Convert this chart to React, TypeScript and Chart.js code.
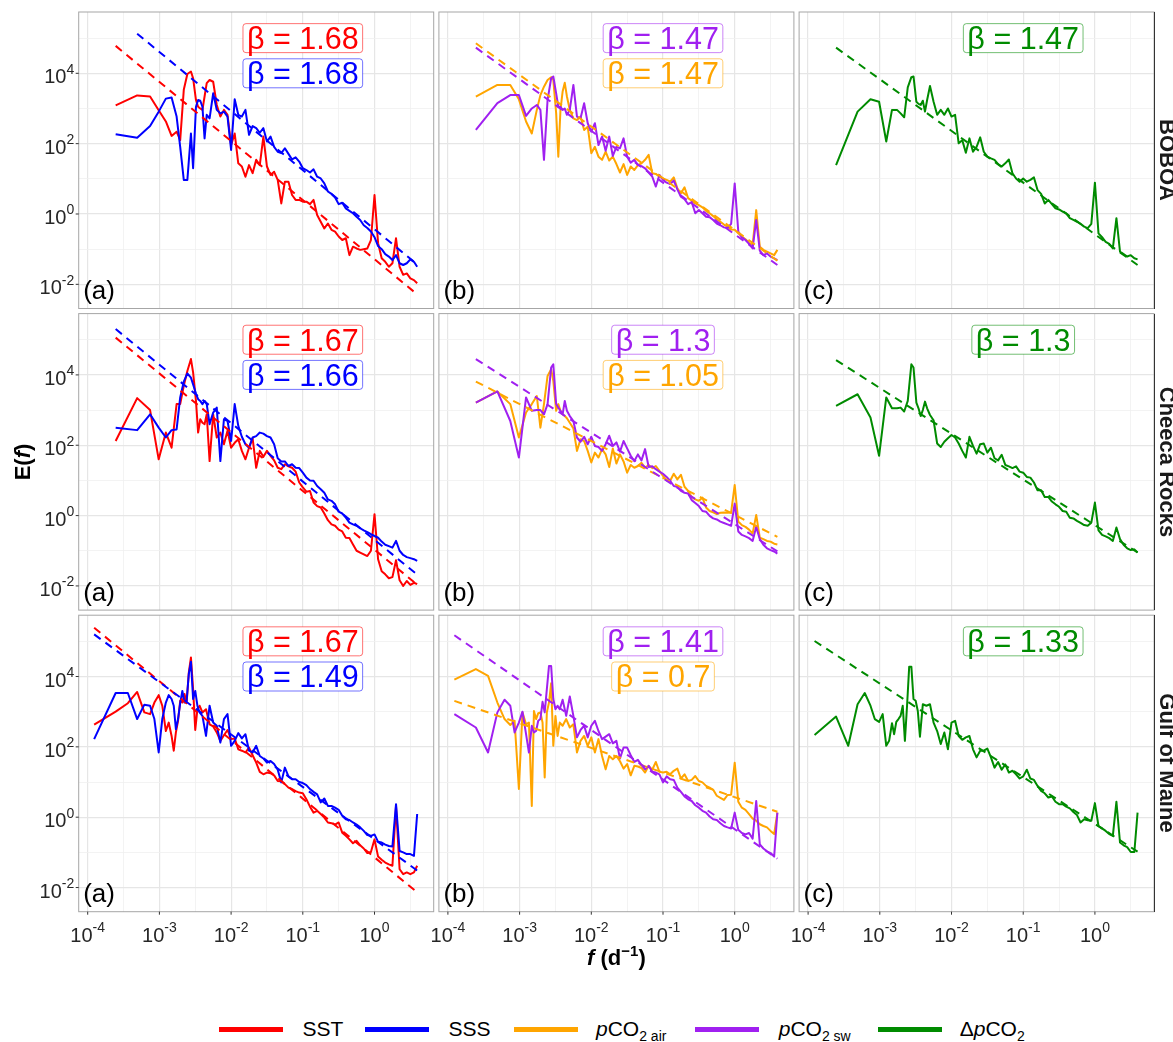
import React, { useEffect, useRef } from "react";
import { Chart, registerables } from "chart.js";

Chart.register(...registerables);

const FONT = '"Liberation Sans", Arial, Helvetica, sans-serif';

// ---------- labels / ticks ----------
const sites = ["BOBOA", "Cheeca Rocks", "Gulf of Maine"];
const panelTags = ["(a)", "(b)", "(c)"];
const xMajorExp = [-4, -3, -2, -1, 0];
const xMinorExp = [-3.5, -2.5, -1.5, -0.5, 0.5];
const yMajorExp = [-2, 0, 2, 4];
const yMinorExp = [-1, 1, 3, 5];
const xLimExp = [-4.1255, 0.8255];
const yLimExp = [-2.687, 5.743];
const betaLabelF = 0.1;
const betaLabelE = [1e5, 1e4];

const varColors = ["#FF0000", "#0000FF", "#FFA500", "#A020F0", "#008B00"];

// ---------- frequency grids: log10 f (d^-1) ----------
const logFreq11yr = [
  -3.61, -3.31, -3.13, -3.01, -2.91, -2.83, -2.76, -2.71, -2.66, -2.61,
  -2.56, -2.53, -2.49, -2.46, -2.43, -2.40, -2.37, -2.34, -2.30,
  -2.25, -2.20, -2.15, -2.10, -2.05, -2.00, -1.95, -1.90, -1.85, -1.80,
  -1.75, -1.70, -1.65, -1.60, -1.55, -1.50, -1.45, -1.40, -1.35, -1.30,
  -1.25, -1.20, -1.15, -1.10, -1.05, -1.00, -0.95, -0.90, -0.85, -0.80,
  -0.75, -0.70, -0.65, -0.60, -0.55, -0.50, -0.45, -0.40, -0.35, -0.30,
  -0.25, -0.20, -0.15, -0.10, -0.05, 0.00, 0.05, 0.10, 0.15, 0.20,
  0.25, 0.30, 0.35, 0.40, 0.45, 0.50, 0.55, 0.595,
];
const logFreq22yr = [
  -3.91, -3.61, -3.44, -3.31, -3.21, -3.13, -3.07, -3.01, -2.96, -2.91,
  -2.87, -2.83, -2.80, -2.77, -2.74, -2.71, -2.68, -2.65, -2.62, -2.59,
  -2.56, -2.53, -2.50, -2.47, -2.44, -2.40, -2.35, -2.30,
  -2.25, -2.20, -2.15, -2.10, -2.05, -2.00, -1.95, -1.90, -1.85, -1.80,
  -1.75, -1.70, -1.65, -1.60, -1.55, -1.50, -1.45, -1.40, -1.35, -1.30,
  -1.25, -1.20, -1.15, -1.10, -1.05, -1.00, -0.95, -0.90, -0.85, -0.80,
  -0.75, -0.70, -0.65, -0.60, -0.55, -0.50, -0.45, -0.40, -0.35, -0.30,
  -0.25, -0.20, -0.15, -0.10, -0.05, 0.00, 0.05, 0.10, 0.15, 0.20,
  0.25, 0.30, 0.35, 0.40, 0.45, 0.50, 0.55, 0.595,
];

// ---------- spectra: log10 E(f) ----------
const boboaSST = [
  3.09, 3.37, 3.34, 2.95, 2.63, 2.22, 2.34, 2.10, 3.53, 3.98,
  4.05, 3.86, 3.24, 3.05, 3.00, 2.96, 3.34, 3.72, 3.81, 3.76,
  3.10, 2.77, 2.96, 2.82, 1.96, 2.29, 1.44, 1.35, 1.06, 1.39,
  1.16, 1.54, 1.39, 2.20, 1.35, 1.11, 1.20, 0.97, 0.30, 0.92,
  0.92, 0.54, 0.40, 0.40, 0.35, 0.35, 0.28, 0.40, -0.03, -0.22,
  -0.41, -0.27, -0.45, -0.50, -0.64, -0.74, -0.69, -1.17, -0.93, -0.98,
  -1.02, -1.00, -0.98, -0.74, 0.54, -0.83, -1.26, -1.36, -1.50, -1.40,
  -0.69, -1.50, -1.73, -1.69, -1.83, -1.88, -1.97,
];
const boboaSSS = [
  2.27, 2.17, 2.50, 2.91, 3.28, 3.31, 2.77, 1.91, 0.97, 0.97,
  2.29, 1.30, 3.05, 3.24, 3.22, 3.05, 2.15, 2.82, 2.72, 3.43,
  2.96, 2.86, 2.91, 2.77, 1.82, 3.26, 2.82, 2.77, 2.96, 2.25,
  2.50, 2.44, 2.31, 2.44, 2.06, 2.20, 1.91, 1.77, 1.73, 1.87,
  1.71, 1.55, 1.61, 1.49, 1.30, 1.25, 1.18, 1.27, 1.06, 1.01,
  0.87, 0.64, 0.57, 0.47, 0.28, 0.32, 0.16, 0.09, 0.02, -0.08,
  -0.17, -0.32, -0.40, -0.50, -0.66, -0.91, -1.00, -1.14, -1.21, -1.31,
  -1.17, -1.40, -1.45, -1.40, -1.29, -1.36, -1.50,
];
const boboaAir = [
  3.34, 3.67, 3.67, 3.26, 2.63, 2.29, 2.96, 3.38, 3.62, 3.81,
  3.89, 3.81, 2.86, 1.63, 2.96, 3.48, 3.73, 3.34, 2.96, 2.72,
  2.67, 2.77, 2.39, 2.48, 1.73, 1.91, 1.63, 1.54, 1.77, 1.52,
  1.63, 1.42, 1.18, 1.42, 1.11, 1.35, 1.25, 1.39, 1.44, 1.54,
  1.68, 1.16, 1.14, 1.06, 1.01, 0.97, 0.92, 1.04, 0.73, 0.59,
  0.76, 0.45, 0.38, 0.30, 0.25, 0.19, 0.09, 0.02, -0.06, -0.15,
  -0.22, -0.30, -0.36, -0.44, -0.45, -0.55, -0.64, -0.72, -0.82, -0.88,
  0.11, -0.93, -1.02, -1.07, -1.12, -1.17, -1.02,
];
const boboaSw = [
  2.39, 3.15, 3.38, 3.38, 2.79, 3.00, 3.10, 2.96, 1.54, 3.24,
  3.86, 3.91, 3.43, 3.05, 3.05, 2.96, 3.00, 2.82, 2.96, 3.67,
  2.77, 2.72, 3.15, 2.58, 2.34, 2.58, 1.96, 2.20, 1.80, 2.20,
  1.65, 1.91, 1.87, 2.15, 1.63, 1.46, 1.54, 1.39, 1.36, 1.30,
  1.18, 1.06, 0.78, 1.11, 0.97, 0.89, 0.85, 0.95, 0.70, 0.49,
  0.42, 0.28, 0.34, 0.02, 0.11, 0.02, -0.08, -0.09, -0.17, -0.27,
  -0.32, -0.38, -0.40, -0.28, 0.87, -0.50, -0.66, -0.74, -0.85, -0.98,
  -0.17, -1.04, -1.17, -1.12, -1.21, -1.26, -1.31,
];
const boboaDelta = [
  1.39, 2.91, 3.26, 3.19, 2.06, 2.96, 2.96, 2.86, 2.75, 3.60,
  3.89, 3.91, 3.19, 3.13, 3.10, 3.22, 2.91, 3.24, 3.64, 3.19,
  2.82, 2.96, 2.82, 3.00, 2.77, 2.82, 2.01, 2.10, 1.74, 2.15,
  1.77, 1.91, 2.18, 1.77, 1.63, 1.58, 1.54, 1.42, 1.35, 1.44,
  1.55, 1.16, 1.01, 0.92, 1.01, 0.92, 0.97, 1.04, 0.68, 0.57,
  0.30, 0.40, 0.28, 0.16, 0.13, 0.07, 0.02, -0.12, -0.17, -0.22,
  -0.28, -0.36, -0.40, -0.28, 0.89, -0.55, -0.66, -0.79, -0.85, -0.98,
  -0.12, -1.07, -1.14, -1.21, -1.17, -1.26, -1.29,
];
const cheecaSST = [
  2.12, 3.34, 3.00, 1.60, 2.36, 1.93, 3.17, 3.17, 3.69, 4.11,
  4.45, 4.07, 3.26, 2.36, 2.74, 2.64, 2.60, 2.88, 1.55, 2.88,
  2.22, 2.36, 2.03, 2.41, 1.93, 2.07, 2.17, 1.84, 1.60, 1.93,
  2.20, 1.36, 1.84, 1.67, 1.84, 1.70, 1.57, 1.36, 1.32, 1.46,
  1.40, 1.36, 1.25, 0.94, 0.80, 0.68, 0.70, 0.37, 0.27, 0.23,
  0.06, -0.13, -0.25, -0.29, -0.40, -0.45, -0.63, -0.64, -0.82, -1.00,
  -1.05, -1.10, -1.15, -1.00, 0.04, -1.24, -1.58, -1.67, -1.78, -1.75,
  -1.27, -1.84, -2.00, -1.86, -1.97, -1.91, -1.95,
];
const cheecaSSS = [
  2.50, 2.43, 2.88, 2.50, 2.22, 2.43, 2.45, 3.36, 3.81, 4.04,
  3.92, 3.73, 3.47, 3.31, 3.26, 3.17, 3.26, 3.17, 2.60, 2.93,
  3.07, 1.55, 2.74, 2.69, 2.12, 3.17, 2.55, 2.24, 2.03, 1.93,
  2.22, 2.26, 2.36, 2.33, 2.26, 2.22, 2.03, 1.63, 1.54, 1.54,
  1.41, 1.46, 1.36, 1.35, 1.22, 1.08, 1.00, 0.99, 0.84, 0.75,
  0.65, 0.46, 0.42, 0.32, 0.11, 0.06, -0.06, -0.20, -0.25, -0.29,
  -0.36, -0.42, -0.47, -0.53, -0.58, -0.63, -0.74, -0.83, -0.87, -0.91,
  -0.72, -1.00, -1.12, -1.18, -1.21, -1.24, -1.29,
];
const cheecaAir = [
  3.21, 3.53, 3.17, 2.22, 2.93, 3.17, 3.40, 2.50, 3.17, 3.97,
  4.16, 3.83, 2.98, 3.17, 2.98, 2.88, 2.83, 2.77, 2.64, 2.48,
  1.84, 2.17, 2.12, 1.84, 1.51, 1.79, 1.65, 1.89, 1.74, 1.38,
  1.91, 1.48, 1.74, 1.54, 1.22, 1.44, 1.36, 1.41, 1.50, 1.36,
  1.44, 1.35, 1.41, 1.27, 1.13, 1.00, 0.99, 1.19, 1.03, 1.16,
  0.82, 0.70, 0.53, 0.46, 0.42, 0.51, 0.23, 0.13, 0.09, 0.04,
  0.08, 0.09, 0.08, 0.09, 0.87, -0.17, -0.27, -0.32, -0.40, -0.51,
  0.02, -0.63, -0.67, -0.72, -0.74, -0.80, -0.82,
];
const cheecaSw = [
  3.21, 3.53, 2.69, 1.65, 3.36, 2.98, 3.00, 3.00, 2.88, 3.17,
  4.21, 4.30, 3.17, 3.07, 2.98, 2.88, 3.26, 2.98, 2.83, 2.69,
  2.22, 2.10, 2.24, 2.03, 2.24, 1.98, 1.95, 1.84, 2.03, 2.27,
  1.98, 2.08, 1.82, 2.12, 1.91, 1.70, 1.55, 1.74, 1.57, 1.89,
  1.38, 1.40, 1.32, 1.25, 1.19, 1.10, 0.99, 0.84, 0.82, 0.70,
  0.65, 0.63, 0.44, 0.36, 0.27, 0.13, 0.11, -0.01, -0.08, -0.11,
  -0.17, -0.21, -0.25, -0.29, 0.34, -0.45, -0.55, -0.59, -0.64, -0.72,
  -0.32, -0.67, -0.83, -0.93, -0.98, -1.02, -1.08,
];
const cheecaDelta = [
  3.12, 3.45, 2.79, 1.70, 3.36, 3.05, 3.05, 3.07, 2.96, 3.26,
  4.30, 4.21, 3.21, 3.05, 2.83, 3.00, 3.24, 3.05, 2.86, 2.71,
  2.05, 1.95, 2.10, 2.20, 2.29, 2.22, 2.05, 1.84, 1.65, 2.24,
  1.98, 1.76, 2.03, 2.05, 1.79, 1.93, 1.63, 1.57, 1.73, 1.44,
  1.40, 1.35, 1.40, 1.25, 1.22, 1.10, 1.08, 0.94, 0.72, 0.72,
  0.53, 0.53, 0.40, 0.32, 0.25, 0.13, 0.11, -0.06, -0.08, -0.15,
  -0.21, -0.27, -0.29, -0.20, 0.37, -0.42, -0.55, -0.59, -0.64, -0.72,
  -0.34, -0.67, -0.83, -0.93, -0.98, -0.96, -1.05,
];
const gomSST = [
  2.63, 3.00, 3.24, 3.56, 2.98, 2.93, 3.26, 3.47, 3.17, 2.45,
  2.69, 2.31, 1.89, 2.41, 2.74, 3.31, 3.26, 3.50, 3.26, 4.11,
  4.54, 3.64, 2.48, 3.07, 3.17, 2.98, 3.07, 2.64, 2.58, 2.41,
  2.17, 2.33, 2.48, 2.22, 2.24, 1.93, 1.89, 1.84, 1.98, 1.76,
  1.55, 1.29, 1.22, 1.27, 1.25, 1.19, 1.03, 1.02, 0.94, 0.84,
  0.80, 0.74, 0.70, 0.68, 0.51, 0.30, 0.13, 0.18, 0.09, -0.01,
  -0.15, -0.17, -0.21, -0.15, -0.44, -0.53, -0.63, -0.74, -0.67, -0.80,
  -0.89, -1.02, -0.99, -0.63, -1.12, -1.21, -1.29, -1.34, -1.38, 0.32,
  -1.48, -1.62, -1.57, -1.62, -1.57, -1.38,
];
const gomSSS = [
  2.22, 3.53, 3.53, 2.79, 3.20, 3.17, 2.79, 1.84, 2.79, 3.26,
  3.47, 3.36, 3.17, 2.50, 2.79, 3.24, 3.59, 3.26, 3.31, 4.07,
  4.42, 3.36, 3.59, 3.17, 2.98, 2.88, 2.31, 3.17, 2.69, 2.60,
  2.12, 2.79, 2.93, 2.03, 2.17, 2.39, 2.24, 2.36, 1.89, 1.84,
  2.03, 1.74, 1.67, 1.55, 1.60, 1.51, 1.35, 0.99, 1.41, 1.16,
  1.08, 1.08, 1.00, 0.97, 0.91, 0.80, 0.72, 0.65, 0.42, 0.53,
  0.32, 0.32, 0.27, 0.21, 0.04, -0.06, -0.08, -0.15, -0.21, -0.29,
  -0.39, -0.51, -0.53, -0.49, -0.70, -0.72, -0.78, -0.82, -0.83, 0.37,
  -0.96, -1.00, -1.05, -1.05, -1.10, 0.09,
];
const gomAir = [
  3.91, 4.21, 4.02, 3.26, 2.79, 2.62, 2.74, 0.80, 2.98, 2.64,
  2.69, 0.32, 3.02, 2.79, 2.96, 2.98, 2.69, 1.13, 2.98, 3.26,
  3.81, 2.03, 2.88, 2.31, 2.69, 2.60, 2.79, 2.55, 2.64, 1.84,
  2.17, 2.31, 2.03, 2.27, 1.84, 2.22, 1.74, 1.36, 1.74, 1.65,
  1.74, 1.59, 1.38, 1.51, 1.19, 1.46, 1.44, 1.40, 1.27, 1.46,
  1.35, 1.57, 1.29, 1.27, 1.29, 1.22, 1.32, 1.38, 1.10, 1.22,
  1.03, 1.06, 1.17, 1.03, 0.99, 0.89, 0.84, 0.78, 0.61, 0.55,
  0.49, 0.63, 0.64, 1.55, 0.44, 0.27, 0.21, 0.09, -0.04, -0.10,
  -0.20, -0.25, -0.29, -0.39, -0.48, 0.13,
];
const gomSw = [
  2.93, 2.55, 1.84, 2.98, 3.34, 3.17, 2.41, 2.69, 3.00, 2.36,
  1.84, 2.60, 2.41, 2.45, 2.74, 2.79, 3.28, 2.98, 3.64, 4.30,
  4.30, 3.36, 3.07, 3.17, 3.07, 3.34, 2.88, 3.43, 2.88, 2.27,
  2.48, 2.60, 2.27, 2.60, 2.74, 2.45, 2.22, 2.29, 2.36, 2.10,
  2.17, 1.67, 1.98, 1.98, 1.76, 1.57, 1.63, 1.48, 1.36, 1.46,
  1.29, 1.27, 1.22, 0.99, 1.16, 1.08, 1.06, 0.84, 0.72, 0.59,
  0.51, 0.46, 0.34, 0.27, 0.18, 0.13, 0.02, -0.06, -0.08, -0.17,
  -0.25, -0.29, -0.32, 0.13, -0.36, -0.45, -0.49, -0.45, -0.61, 0.46,
  -0.77, -0.89, -0.97, -1.02, -1.12, 0.13,
];
const gomDelta = [
  2.34, 2.86, 2.03, 3.21, 3.53, 3.17, 2.79, 2.71, 2.93, 2.03,
  2.17, 2.67, 2.36, 2.71, 2.79, 2.88, 3.17, 2.17, 3.17, 4.28,
  4.28, 3.36, 3.31, 3.02, 2.29, 3.21, 3.17, 3.21, 2.69, 2.45,
  2.08, 2.41, 1.93, 2.69, 2.74, 2.31, 2.20, 2.27, 2.31, 1.93,
  1.70, 1.89, 1.89, 1.95, 1.70, 1.41, 1.57, 1.35, 1.50, 1.27,
  1.32, 1.22, 1.10, 1.16, 1.35, 1.10, 1.06, 0.89, 0.75, 0.68,
  0.56, 0.59, 0.44, 0.37, 0.37, 0.30, 0.25, 0.15, 0.06, -0.15,
  -0.06, -0.09, -0.10, 0.40, -0.25, -0.32, -0.39, -0.48, -0.53, 0.44,
  -0.72, -0.80, -0.85, -0.99, -0.99, 0.13,
];

// ---------- power-law fits: E = A f^-beta (per site: BOBOA, Cheeca, GoM) ----------
const betaSST = [1.68, 1.67, 1.67];
const betaSSS = [1.68, 1.66, 1.49];
const betaAir = [1.47, 1.05, 0.7];
const betaSw = [1.47, 1.3, 1.41];
const betaDelta = [1.47, 1.3, 1.33];
const logA_SST = [-1.285, -0.969, -1.143];
const logA_SSS = [-0.434, -0.69, -0.629];
const logA_Air = [-0.454, 0.02, 0.57];
const logA_Sw = [-0.577, -0.243, -0.341];
const logA_Delta = [-0.577, -0.273, -0.19];
const fitFromSSS = [1, 0, 0];

// ---------- assembly ----------
const rowFreq = [logFreq11yr, logFreq11yr, logFreq22yr];
const spectra = [
  [boboaSST, cheecaSST, gomSST],
  [boboaSSS, cheecaSSS, gomSSS],
  [boboaAir, cheecaAir, gomAir],
  [boboaSw, cheecaSw, gomSw],
  [boboaDelta, cheecaDelta, gomDelta],
];
const betas = [betaSST, betaSSS, betaAir, betaSw, betaDelta];
const logAs = [logA_SST, logA_SSS, logA_Air, logA_Sw, logA_Delta];
const colVars = [[0, 1], [2, 3], [4]];
const colLabelVars = [[0, 1], [3, 2], [4]];

// layout (px)
const PANEL_L = [78.7, 438.9, 799.1];
const PANEL_T = [12, 313.6, 615.2];
const PANEL_W = 355;
const PANEL_H = 296.5;
const PAD_L = 80, PAD_T = 6, PAD_R = 6, PAD_B = 50;

function canvasBox(r: number, c: number) {
  const left = Math.floor(PANEL_L[c]) - PAD_L;
  const top = Math.floor(PANEL_T[r]) - PAD_T;
  const width = Math.ceil(PANEL_L[c] + PANEL_W + PAD_R) - left;
  const height = Math.ceil(PANEL_T[r] + PANEL_H + PAD_B) - top;
  return { left, top, width, height };
}

function alpha(hex: string, a: number) {
  const n = parseInt(hex.slice(1), 16);
  return `rgba(${(n >> 16) & 255},${(n >> 8) & 255},${n & 255},${a})`;
}

function drawPow(ctx: CanvasRenderingContext2D, exp: number, x: number, base: number, align: "right" | "center") {
  ctx.font = `20px ${FONT}`;
  const w1 = ctx.measureText("10").width;
  ctx.font = `14px ${FONT}`;
  const es = String(exp);
  const w2 = ctx.measureText(es).width;
  const total = w1 + w2;
  const sx = align === "right" ? x - total : x - total / 2;
  ctx.textAlign = "left";
  ctx.textBaseline = "alphabetic";
  ctx.font = `20px ${FONT}`;
  ctx.fillText("10", sx, base);
  ctx.font = `14px ${FONT}`;
  ctx.fillText(es, sx + w1, base - 9.5);
}

function makeChart(canvas: HTMLCanvasElement, r: number, c: number) {
  const box = canvasBox(r, c);
  const padL = PANEL_L[c] - box.left;
  const padT = PANEL_T[r] - box.top;
  const padR = box.width - padL - PANEL_W;
  const padB = box.height - padT - PANEL_H;
  const lf = rowFreq[r];

  const datasets: any[] = [];
  colVars[c].forEach((v) => {
    const le = spectra[v][r];
    datasets.push({
      data: lf.map((f, i) => ({ x: Math.pow(10, f), y: Math.pow(10, le[i]) })),
      borderColor: varColors[v],
      borderWidth: 2,
      showLine: true,
      pointRadius: 0,
      tension: 0,
      borderJoinStyle: "round",
      fill: false,
    });
  });
  colVars[c].forEach((v) => {
    const from = v === 1 ? fitFromSSS[r] : 0;
    const ends = [lf[from], lf[lf.length - 1]];
    datasets.push({
      data: ends.map((f) => ({ x: Math.pow(10, f), y: Math.pow(10, logAs[v][r] - betas[v][r] * f) })),
      borderColor: varColors[v],
      borderWidth: 2,
      borderDash: [8, 6],
      showLine: true,
      pointRadius: 0,
      fill: false,
    });
  });
  const n = datasets.length;
  datasets.forEach((d, i) => (d.order = n - i));

  const labels = colLabelVars[c].map((v, k) => ({
    text: "\u03B2 = " + String(betas[v][r]),
    color: varColors[v],
    y: betaLabelE[k],
  }));

  const xGrid = [...xMajorExp, ...xMinorExp].map((e) => Math.pow(10, e));
  const yGrid = [...yMajorExp, ...yMinorExp].map((e) => Math.pow(10, e));
  const isMajorX = (v: number) => Math.abs(Math.log10(v) - Math.round(Math.log10(v))) < 1e-6;
  const isMajorY = (v: number) => {
    const e = Math.round(Math.log10(v));
    return Math.abs(Math.log10(v) - e) < 1e-6 && e % 2 === 0;
  };

  const decor = {
    id: "decor",
    afterDraw(chart: any) {
      const { ctx, chartArea: a, scales } = chart;
      const xs = scales.x, ys = scales.y;
      ctx.save();
      // beta labels
      labels.forEach((lb) => {
        const cx = xs.getPixelForValue(betaLabelF);
        const cy = ys.getPixelForValue(lb.y);
        ctx.font = `30.5px ${FONT}`;
        const tw = ctx.measureText(lb.text).width;
        const bw = tw + 8, bh = 29;
        ctx.beginPath();
        (ctx as any).roundRect(cx - bw / 2, cy - bh / 2, bw, bh, 3);
        ctx.fillStyle = "#ffffff";
        ctx.fill();
        ctx.lineWidth = 1;
        ctx.strokeStyle = alpha(lb.color, 0.55);
        ctx.stroke();
        ctx.fillStyle = lb.color;
        ctx.textAlign = "center";
        ctx.textBaseline = "alphabetic";
        ctx.fillText(lb.text, cx, cy + 10.8);
      });
      // panel tag
      ctx.font = `26px ${FONT}`;
      ctx.fillStyle = "#000";
      ctx.textAlign = "left";
      ctx.textBaseline = "alphabetic";
      ctx.fillText(panelTags[c], a.left + 4.5, a.bottom - 9.5);
      // panel border
      ctx.strokeStyle = "#a6a6a6";
      ctx.lineWidth = 1;
      ctx.strokeRect(a.left, a.top, a.right - a.left, a.bottom - a.top);
      // axes
      ctx.fillStyle = "#262626";
      ctx.strokeStyle = "#333333";
      if (c === 0) {
        yMajorExp.forEach((e) => {
          const y = ys.getPixelForValue(Math.pow(10, e));
          ctx.beginPath();
          ctx.moveTo(a.left - 3, y);
          ctx.lineTo(a.left, y);
          ctx.stroke();
          drawPow(ctx, e, a.left - 4.5, y + 10, "right");
        });
      }
      if (r === 2) {
        xMajorExp.forEach((e) => {
          const x = xs.getPixelForValue(Math.pow(10, e));
          ctx.beginPath();
          ctx.moveTo(x, a.bottom);
          ctx.lineTo(x, a.bottom + 3);
          ctx.stroke();
          drawPow(ctx, e, x, a.bottom + 30, "center");
        });
      }
      ctx.restore();
    },
  };

  return new Chart(canvas, {
    type: "scatter",
    data: { datasets },
    options: {
      animation: false,
      responsive: false,
      devicePixelRatio: 1,
      events: [],
      layout: { padding: { left: 0, top: padT, right: padR, bottom: 0 } },
      plugins: { legend: { display: false }, tooltip: { enabled: false } },
      scales: {
        x: {
          type: "logarithmic",
          bounds: "data",
          min: Math.pow(10, xLimExp[0]),
          max: Math.pow(10, xLimExp[1]),
          ticks: { display: false },
          border: { display: false },
          grid: {
            drawTicks: false,
            color: (ctx: any) => (ctx.tick && isMajorX(ctx.tick.value) ? "#e6e6e6" : "#f0f0f0"),
            lineWidth: (ctx: any) => (ctx.tick && isMajorX(ctx.tick.value) ? 1.2 : 0.8),
          },
          afterBuildTicks: (scale: any) => {
            scale.ticks = xGrid.map((v) => ({ value: v }));
          },
          afterFit: (scale: any) => {
            scale.height = padB;
          },
        },
        y: {
          type: "logarithmic",
          bounds: "data",
          min: Math.pow(10, yLimExp[0]),
          max: Math.pow(10, yLimExp[1]),
          ticks: { display: false },
          border: { display: false },
          grid: {
            drawTicks: false,
            color: (ctx: any) => (ctx.tick && isMajorY(ctx.tick.value) ? "#e6e6e6" : "#f0f0f0"),
            lineWidth: (ctx: any) => (ctx.tick && isMajorY(ctx.tick.value) ? 1.2 : 0.8),
          },
          afterBuildTicks: (scale: any) => {
            scale.ticks = yGrid.map((v) => ({ value: v }));
          },
          afterFit: (scale: any) => {
            scale.width = padL;
          },
        },
      },
    } as any,
    plugins: [decor],
  });
}

const subStyle = { fontSize: 14, verticalAlign: "-5px" };
const legendItems = [
  { color: varColors[0], lineX: 219, textX: 302.6, label: <>SST</> },
  { color: varColors[1], lineX: 364.6, textX: 448.5, label: <>SSS</> },
  { color: varColors[2], lineX: 513.8, textX: 596, label: <><i>p</i>CO<sub style={subStyle}>2 air</sub></> },
  { color: varColors[3], lineX: 695, textX: 778.7, label: <><i>p</i>CO<sub style={subStyle}>2 sw</sub></> },
  { color: varColors[4], lineX: 878, textX: 959.7, label: <>Δ<i>p</i>CO<sub style={subStyle}>2</sub></> },
];

export default function App() {
  const refs = useRef<(HTMLCanvasElement | null)[]>([]);

  useEffect(() => {
    const charts: Chart[] = [];
    for (let r = 0; r < 3; r++) {
      for (let c = 0; c < 3; c++) {
        const cv = refs.current[r * 3 + c];
        if (cv) charts.push(makeChart(cv, r, c));
      }
    }
    return () => charts.forEach((ch) => ch.destroy());
  }, []);

  const canvases = [];
  for (let r = 0; r < 3; r++) {
    for (let c = 0; c < 3; c++) {
      const b = canvasBox(r, c);
      canvases.push(
        <canvas
          key={`${r}-${c}`}
          ref={(el) => {
            refs.current[r * 3 + c] = el;
          }}
          width={b.width}
          height={b.height}
          style={{ position: "absolute", left: b.left, top: b.top, width: b.width, height: b.height }}
        />
      );
    }
  }

  return (
    <div
      style={{
        position: "fixed",
        left: 0,
        top: 0,
        width: 1173,
        height: 1042,
        overflow: "hidden",
        background: "#ffffff",
        fontFamily: FONT,
        color: "#000",
      }}
    >
      {canvases}
      {/* strip borders and labels */}
      {sites.map((s, r) => (
        <React.Fragment key={s}>
          <div
            style={{
              position: "absolute",
              left: 1154,
              top: PANEL_T[r],
              width: 1.2,
              height: PANEL_H,
              background: "#333333",
            }}
          />
          <div
            style={{
              position: "absolute",
              left: 1167 - 150,
              top: PANEL_T[r] + PANEL_H / 2 - 11,
              width: 300,
              height: 22,
              lineHeight: "22px",
              fontSize: 22,
              fontWeight: "bold",
              color: "#1a1a1a",
              textAlign: "center",
              whiteSpace: "nowrap",
              transform: "rotate(90deg)",
            }}
          >
            {s}
          </div>
        </React.Fragment>
      ))}
      {/* y title */}
      <div
        style={{
          position: "absolute",
          left: 23 - 100,
          top: 462 - 11,
          width: 200,
          height: 22,
          lineHeight: "22px",
          fontSize: 22,
          fontWeight: "bold",
          textAlign: "center",
          transform: "rotate(-90deg)",
          whiteSpace: "nowrap",
        }}
      >
        E(<i>f</i>)
      </div>
      {/* x title */}
      <div
        style={{
          position: "absolute",
          left: 616.4 - 200,
          top: 966 - 18.6,
          width: 400,
          height: 22,
          lineHeight: "22px",
          fontSize: 22,
          fontWeight: "bold",
          textAlign: "center",
          whiteSpace: "nowrap",
        }}
      >
        <i>f</i> (d
        <span style={{ fontSize: 15, position: "relative", top: -9 }}>−1</span>)
      </div>
      {/* legend */}
      {legendItems.map((it, i) => (
        <React.Fragment key={i}>
          <div
            style={{
              position: "absolute",
              left: it.lineX,
              top: 1026.5,
              width: 64,
              height: 5.5,
              background: it.color,
            }}
          />
          <div
            style={{
              position: "absolute",
              left: it.textX,
              top: 1018,
              height: 22,
              lineHeight: "22px",
              fontSize: 21,
              whiteSpace: "nowrap",
            }}
          >
            {it.label}
          </div>
        </React.Fragment>
      ))}
    </div>
  );
}
